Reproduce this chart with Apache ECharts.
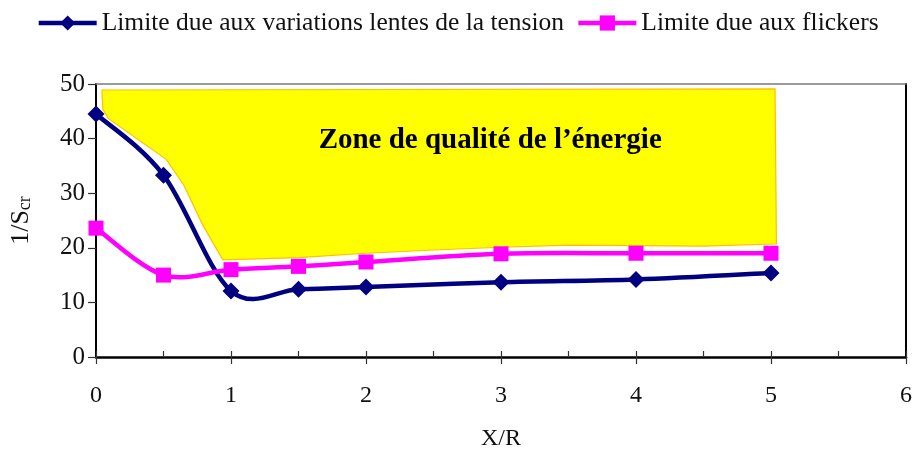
<!DOCTYPE html>
<html>
<head>
<meta charset="utf-8">
<script src="https://cdn.jsdelivr.net/npm/echarts@6/dist/echarts.min.js"></script>
<style>
  html, body { margin: 0; padding: 0; background: #ffffff; }
  #chart { width: 915px; height: 457px; }
</style>
</head>
<body>
<div id="chart"></div>
<script>
// X/R ratios where both limits were evaluated
const xRatio = [0, 0.5, 1, 1.5, 2, 3, 4, 5];
// Limit due to slow voltage variations
const limitSlow = [44.5, 33.3, 12.1, 12.4, 12.8, 13.7, 14.2, 15.4];
// Limit due to flicker
const limitFlicker = [23.6, 15.0, 16.0, 16.6, 17.4, 18.9, 19.0, 19.0];
// Outline of the power-quality zone (x, y pairs walked clockwise)
const zoneX = [0.044, 0.05, 0.09, 0.52, 0.65, 0.79, 0.94, 1.5, 2, 2.5, 3, 3.5, 4, 4.5, 5.04, 5.03];
const zoneY = [48.9, 45.4, 43.7, 36.2, 31.5, 24.2, 17.8, 18.2, 19.0, 19.6, 20.1, 20.5, 20.4, 20.3, 20.7, 49.1];
const zoneLabel = 'Zone de qualité de l’énergie';
const zoneLabelAt = [2.92, 39.6];
// Axis ticks
const xTicks = [0, 1, 2, 3, 4, 5, 6];
const yTicks = [0, 10, 20, 30, 40, 50];

const seriesNames = ['Limite due aux variations lentes de la tension', 'Limite due aux flickers'];
const colors = ['#000080', '#ff00ff'];
const FONT = '"Liberation Serif", "Times New Roman", serif';

const chart = echarts.init(document.getElementById('chart'), null, { renderer: 'canvas' });

const xMin = xTicks[0], xMax = xTicks[xTicks.length - 1];
const yMin = yTicks[0], yMax = yTicks[yTicks.length - 1];

// Smooth curve through the points (cardinal spline, tension 1/6), in pixel space
function splinePath(api, xs, ys) {
  const p = xs.map(function (x, i) { return api.coord([x, ys[i]]); });
  const n = p.length;
  let d = 'M' + p[0][0] + ' ' + p[0][1];
  for (let i = 0; i < n - 1; i++) {
    const p0 = p[Math.max(i - 1, 0)], p1 = p[i], p2 = p[i + 1], p3 = p[Math.min(i + 2, n - 1)];
    const c1x = p1[0] + (p2[0] - p0[0]) / 6, c1y = p1[1] + (p2[1] - p0[1]) / 6;
    const c2x = p2[0] - (p3[0] - p1[0]) / 6, c2y = p2[1] - (p3[1] - p1[1]) / 6;
    d += ' C' + c1x + ' ' + c1y + ' ' + c2x + ' ' + c2y + ' ' + p2[0] + ' ' + p2[1];
  }
  return d;
}

function curveSeries(ys, color, z) {
  return {
    type: 'custom',
    name: 'curve' + z,
    xAxisIndex: 0, yAxisIndex: 0,
    silent: true,
    z: z,
    data: [0],
    renderItem: function (params, api) {
      return {
        type: 'path',
        shape: { pathData: splinePath(api, xRatio, ys) },
        style: { fill: null, stroke: color, lineWidth: 4.5, lineJoin: 'round', lineCap: 'round' }
      };
    }
  };
}

function markerSeries(name, ys, symbol, size, color, z) {
  return {
    name: name,
    type: 'line',
    xAxisIndex: 0, yAxisIndex: 0,
    z: z,
    data: xRatio.map(function (x, i) { return [x, ys[i]]; }),
    symbol: symbol,
    symbolSize: size,
    itemStyle: { color: color },
    lineStyle: { color: color, width: 0, opacity: 0 }
  };
}

chart.setOption({
  animation: false,
  backgroundColor: '#ffffff',
  textStyle: { fontFamily: FONT },
  legend: {
    top: 5,
    left: 'center',
    itemWidth: 58,
    itemHeight: 19,
    itemGap: 12,
    textStyle: { fontFamily: FONT, fontSize: 25.5, color: '#111' },
    data: seriesNames.map(function (n, i) {
      return { name: n, lineStyle: { color: colors[i], width: 4.5, opacity: 1, type: 'solid' } };
    })
  },
  grid: { left: 96, right: 9, top: 84, bottom: 100 },
  xAxis: [
    {
      type: 'value', position: 'bottom', min: xMin, max: xMax, interval: 1,
      name: 'X/R', nameLocation: 'middle', nameGap: 70,
      nameTextStyle: { fontFamily: FONT, fontSize: 24, color: '#111' },
      axisLine: { show: true, onZero: false, lineStyle: { color: '#000', width: 2.5 } },
      axisTick: { show: true, inside: false, length: 7, lineStyle: { color: '#333', width: 1.2 } },
      axisLabel: { margin: 27, fontFamily: FONT, fontSize: 24, color: '#111' },
      splitLine: { show: false }
    },
    {
      type: 'value', position: 'bottom', min: xMin, max: xMax, interval: 0.5,
      axisLine: { show: false, onZero: false },
      axisTick: { show: true, inside: true, length: 6, lineStyle: { color: '#333', width: 1.2 } },
      axisLabel: { show: false },
      splitLine: { show: false }
    },
    {
      type: 'value', position: 'top', min: xMin, max: xMax,
      axisLine: { show: true, onZero: false, lineStyle: { color: '#7a7a7a', width: 1.5 } },
      axisTick: { show: false }, axisLabel: { show: false }, splitLine: { show: false }
    }
  ],
  yAxis: [
    {
      type: 'value', position: 'left', min: yMin, max: yMax, interval: 10,
      name: '{m|1/S}{s|cr}', nameLocation: 'middle', nameGap: 62, nameRotate: 90,
      nameTextStyle: {
        rich: {
          m: { fontFamily: FONT, fontSize: 26, color: '#111' },
          s: { fontFamily: FONT, fontSize: 18, color: '#111', verticalAlign: 'bottom' }
        }
      },
      axisLine: { show: true, onZero: false, lineStyle: { color: '#000', width: 2 } },
      axisTick: { show: true, inside: false, length: 8, lineStyle: { color: '#333', width: 1.2 } },
      axisLabel: { margin: 11, fontFamily: FONT, fontSize: 25, color: '#111' },
      splitLine: { show: false }
    },
    {
      type: 'value', position: 'right', min: yMin, max: yMax,
      axisLine: { show: true, onZero: false, lineStyle: { color: '#000', width: 2 } },
      axisTick: { show: false }, axisLabel: { show: false }, splitLine: { show: false }
    }
  ],
  series: [
    {
      type: 'custom',
      name: 'zone',
      xAxisIndex: 0, yAxisIndex: 0,
      silent: true,
      z: 1,
      data: [0],
      renderItem: function (params, api) {
        const pts = zoneX.map(function (x, i) { return api.coord([x, zoneY[i]]); });
        const lp = api.coord(zoneLabelAt);
        return {
          type: 'group',
          children: [
            {
              type: 'polygon',
              shape: { points: pts },
              style: { fill: '#ffff00', stroke: '#ffc000', lineWidth: 1.2 }
            },
            {
              type: 'text',
              x: lp[0], y: lp[1],
              style: {
                text: zoneLabel,
                fontFamily: FONT, fontSize: 29, fontWeight: 'bold',
                fill: '#000', align: 'center', verticalAlign: 'middle'
              }
            }
          ]
        };
      }
    },
    curveSeries(limitSlow, colors[0], 2),
    curveSeries(limitFlicker, colors[1], 3),
    markerSeries(seriesNames[0], limitSlow, 'diamond', 17, colors[0], 4),
    markerSeries(seriesNames[1], limitFlicker, 'rect', 15, colors[1], 5)
  ]
});
</script>
</body>
</html>
